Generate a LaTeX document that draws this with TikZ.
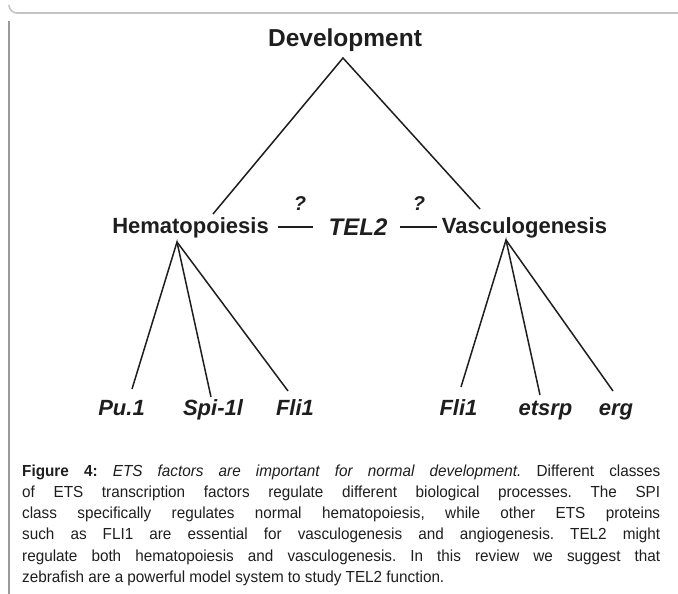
\documentclass[tikz,border=0pt]{standalone}
\usepackage{fontspec}
\usepackage{graphicx}
\setmainfont{Liberation Sans}
\newfontfamily\capfont{Liberation Sans}
\definecolor{ink}{HTML}{1E1E1E}
\definecolor{framegray}{HTML}{C4C4C4}
\definecolor{leftgray}{HTML}{9A9A9A}
\newcommand{\capjust}[1]{\scalebox{0.955}[1]{\makebox[668.1pt][s]{#1}}}
\newcommand{\capnat}[1]{\scalebox{0.955}[1]{#1}}
\begin{document}
\begin{tikzpicture}[x=1pt,y=-1pt,
  lbl/.style={anchor=base,inner sep=0pt,text=ink,font=\fontsize{22}{26}\selectfont\bfseries},
  gene/.style={anchor=base,inner sep=0pt,text=ink,font=\fontsize{22}{26}\selectfont\bfseries\itshape},
  edge/.style={draw=ink,line width=1.5pt},
  qm/.style={anchor=base,inner sep=0pt,text=ink,font=\fontsize{20}{24}\selectfont\bfseries\itshape},
  capline/.style={anchor=base west,inner sep=0pt,text=ink,font=\capfont\fontsize{16}{19}\selectfont\frenchspacing}]
\useasboundingbox (0,0) rectangle (678,594);
% frame
\draw[framegray,line width=1.6pt] (678,13) -- (17,13) arc[start angle=90,end angle=180,radius=8];
\draw[leftgray,line width=1.2pt] (9,21) -- (9,594);
% nodes
\node[lbl,font=\fontsize{24.5}{28}\selectfont\bfseries] (dev) at (345,47) {Development};
\node[lbl] (hema) at (190.5,233) {Hematopoiesis};
\node[gene,font=\fontsize{24}{28}\selectfont\bfseries\itshape] (tel) at (358,235) {TEL2};
\node[lbl] (vasc) at (524.5,233) {Vasculogenesis};
\node[qm] (q1) at (300,210) {?};
\node[qm] (q2) at (419,210) {?};
\node[gene] (pu) at (121.5,415) {Pu.1};
\node[gene] (spi) at (213,415) {Spi-1l};
\node[gene] (fli) at (295,415) {Fli1};
\node[gene] (fliv) at (458.5,415) {Fli1};
\node[gene] (ets) at (545.5,415) {etsrp};
\node[gene] (erg) at (616,415) {erg};
% connector points
\coordinate (devtop) at (343,58);
\coordinate (hemtop) at (213,214);
\coordinate (vastop) at (480,209);
\coordinate (hroot) at (177,242);
\coordinate (vroot) at (506,240);
\coordinate (puend) at (132,389);
\coordinate (spiend) at (211,397);
\coordinate (fliend) at (288,391);
\coordinate (flivend) at (461,387);
\coordinate (etsend) at (540,395);
\coordinate (ergend) at (613,391);
\coordinate (d1a) at (278,227);
\coordinate (d1b) at (313,227);
\coordinate (d2a) at (400,227);
\coordinate (d2b) at (437,227);
% connectors
\draw[edge] (hemtop) -- (devtop) -- (vastop);
\draw[edge] (puend) -- (hroot) -- (spiend);
\draw[edge] (hroot) -- (fliend);
\draw[edge] (flivend) -- (vroot) -- (etsend);
\draw[edge] (vroot) -- (ergend);
\draw[edge] (d1a) -- (d1b);
\draw[edge] (d2a) -- (d2b);
% caption
\node[capline] (c1) at (22,476) {\capjust{\textbf{Figure 4:} \textit{ETS factors are important for normal development.} Different classes}};
\node[capline] (c2) at (22,497.3) {\capjust{of ETS transcription factors regulate different biological processes. The SPI}};
\node[capline] (c3) at (22,518.6) {\capjust{class specifically regulates normal hematopoiesis, while other ETS proteins}};
\node[capline] (c4) at (22,539.9) {\capjust{such as FLI1 are essential for vasculogenesis and angiogenesis. TEL2 might}};
\node[capline] (c5) at (22,561.2) {\capjust{regulate both hematopoiesis and vasculogenesis. In this review we suggest that}};
\node[capline] (c6) at (22,582.5) {\capnat{zebrafish are a powerful model system to study TEL2 function.}};
\end{tikzpicture}
\end{document}
